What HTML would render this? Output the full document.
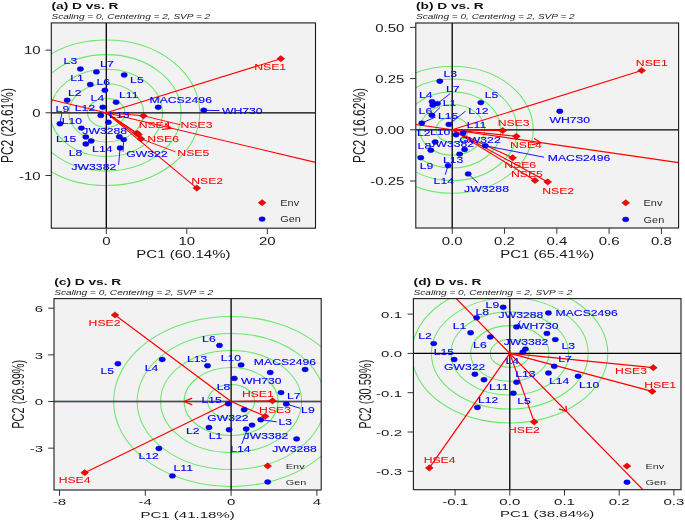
<!DOCTYPE html><html><head><meta charset="utf-8"><style>html,body{margin:0;padding:0;background:#fff}svg{display:block;will-change:transform}text{font-family:"Liberation Sans",sans-serif}</style></head><body>
<svg width="685" height="522" viewBox="0 0 685 522">
<rect width="685" height="522" fill="#fff"/>
<text transform="translate(51.5,8.7) scale(1.4,1)" font-size="9.8" fill="#111" text-anchor="start" font-weight="bold">(a) D vs. R</text>
<text transform="translate(51.5,19.3) scale(1.36,1)" font-size="7.4" fill="#222" text-anchor="start" font-style="italic">Scaling = 0, Centering = 2, SVP = 2</text>
<rect x="51.3" y="22.9" width="264.2" height="205.3" fill="#f2f2f2"/>
<clipPath id="clipa"><rect x="51.3" y="22.9" width="264.2" height="205.3"/></clipPath>
<g clip-path="url(#clipa)">
<ellipse cx="106.3" cy="112.8" rx="18.7" ry="14.55" fill="none" stroke="#6ae86a" stroke-width="1.05"/>
<ellipse cx="106.3" cy="112.8" rx="37.4" ry="29.1" fill="none" stroke="#6ae86a" stroke-width="1.05"/>
<ellipse cx="106.3" cy="112.8" rx="56.1" ry="43.65" fill="none" stroke="#6ae86a" stroke-width="1.05"/>
<ellipse cx="106.3" cy="112.8" rx="74.8" ry="58.2" fill="none" stroke="#6ae86a" stroke-width="1.05"/>
<ellipse cx="106.3" cy="112.8" rx="93.5" ry="72.75" fill="none" stroke="#6ae86a" stroke-width="1.05"/>
<line x1="51.3" y1="112.8" x2="315.5" y2="112.8" stroke="#000" stroke-width="1.3"/>
<line x1="106.3" y1="22.9" x2="106.3" y2="228.2" stroke="#000" stroke-width="1.3"/>
<line x1="51.3" y1="99.77" x2="315.5" y2="162.38" stroke="#ff0000" stroke-width="1.1"/>
<polyline points="162.46,129.45 171,128.3 165.29,123.77" fill="none" stroke="#ff0000" stroke-width="1.3" stroke-linecap="round" stroke-linejoin="round"/>
<line x1="106.3" y1="112.8" x2="280.8" y2="58.7" stroke="#ff0000" stroke-width="1.1"/>
<line x1="106.3" y1="112.8" x2="196.8" y2="188.1" stroke="#ff0000" stroke-width="1.1"/>
<line x1="106.3" y1="112.8" x2="143.4" y2="115.8" stroke="#ff0000" stroke-width="1.1"/>
<line x1="106.3" y1="112.8" x2="137.1" y2="133.3" stroke="#ff0000" stroke-width="1.1"/>
<line x1="106.3" y1="112.8" x2="141" y2="138.9" stroke="#ff0000" stroke-width="1.1"/>
<line x1="106.3" y1="112.8" x2="138.5" y2="134.5" stroke="#ff0000" stroke-width="1.1"/>
<line x1="143.4" y1="115.8" x2="180.5" y2="124.8" stroke="#ff0000" stroke-width="0.9"/>
<line x1="141" y1="138.9" x2="175.5" y2="151.8" stroke="#ff0000" stroke-width="0.9"/>
<line x1="61.9" y1="113" x2="59.9" y2="123.8" stroke="#0000ff" stroke-width="0.9"/>
<line x1="123.7" y1="139.6" x2="123" y2="151.6" stroke="#0000ff" stroke-width="0.9"/>
<line x1="120.1" y1="148" x2="118.6" y2="164.7" stroke="#0000ff" stroke-width="0.9"/>
<line x1="203.8" y1="110.3" x2="219.5" y2="110.6" stroke="#0000ff" stroke-width="0.9"/>
<ellipse cx="80.4" cy="69" rx="3.2" ry="2.45" fill="#0000ff" stroke="#00007a" stroke-width="0.35"/>
<ellipse cx="96.4" cy="71.9" rx="3.2" ry="2.45" fill="#0000ff" stroke="#00007a" stroke-width="0.35"/>
<ellipse cx="124.2" cy="75" rx="3.2" ry="2.45" fill="#0000ff" stroke="#00007a" stroke-width="0.35"/>
<ellipse cx="90.3" cy="84.5" rx="3.2" ry="2.45" fill="#0000ff" stroke="#00007a" stroke-width="0.35"/>
<ellipse cx="104.9" cy="90.3" rx="3.2" ry="2.45" fill="#0000ff" stroke="#00007a" stroke-width="0.35"/>
<ellipse cx="67.2" cy="100.3" rx="3.2" ry="2.45" fill="#0000ff" stroke="#00007a" stroke-width="0.35"/>
<ellipse cx="116.1" cy="102.2" rx="3.2" ry="2.45" fill="#0000ff" stroke="#00007a" stroke-width="0.35"/>
<ellipse cx="102.8" cy="107.3" rx="3.2" ry="2.45" fill="#0000ff" stroke="#00007a" stroke-width="0.35"/>
<ellipse cx="100.8" cy="115.4" rx="3.2" ry="2.45" fill="#0000ff" stroke="#00007a" stroke-width="0.35"/>
<ellipse cx="108.4" cy="122.3" rx="3.2" ry="2.45" fill="#0000ff" stroke="#00007a" stroke-width="0.35"/>
<ellipse cx="59.9" cy="123.8" rx="3.2" ry="2.45" fill="#0000ff" stroke="#00007a" stroke-width="0.35"/>
<ellipse cx="81.4" cy="128.1" rx="3.2" ry="2.45" fill="#0000ff" stroke="#00007a" stroke-width="0.35"/>
<ellipse cx="85.8" cy="137" rx="3.2" ry="2.45" fill="#0000ff" stroke="#00007a" stroke-width="0.35"/>
<ellipse cx="91.2" cy="141" rx="3.2" ry="2.45" fill="#0000ff" stroke="#00007a" stroke-width="0.35"/>
<ellipse cx="85.8" cy="144" rx="3.2" ry="2.45" fill="#0000ff" stroke="#00007a" stroke-width="0.35"/>
<ellipse cx="119.3" cy="136.7" rx="3.2" ry="2.45" fill="#0000ff" stroke="#00007a" stroke-width="0.35"/>
<ellipse cx="123.7" cy="139.6" rx="3.2" ry="2.45" fill="#0000ff" stroke="#00007a" stroke-width="0.35"/>
<ellipse cx="120.1" cy="148" rx="3.2" ry="2.45" fill="#0000ff" stroke="#00007a" stroke-width="0.35"/>
<ellipse cx="158.2" cy="107.3" rx="3.2" ry="2.45" fill="#0000ff" stroke="#00007a" stroke-width="0.35"/>
<ellipse cx="203.8" cy="110.3" rx="3.2" ry="2.45" fill="#0000ff" stroke="#00007a" stroke-width="0.35"/>
<polygon points="276.9,58.7 280.8,55.6 284.7,58.7 280.8,61.8" fill="#ff0000" stroke="#8a0000" stroke-width="0.45" stroke-linejoin="miter"/>
<polygon points="192.9,188.1 196.8,185 200.7,188.1 196.8,191.2" fill="#ff0000" stroke="#8a0000" stroke-width="0.45" stroke-linejoin="miter"/>
<polygon points="139.5,115.8 143.4,112.7 147.3,115.8 143.4,118.9" fill="#ff0000" stroke="#8a0000" stroke-width="0.45" stroke-linejoin="miter"/>
<polygon points="133.2,133.3 137.1,130.2 141,133.3 137.1,136.4" fill="#ff0000" stroke="#8a0000" stroke-width="0.45" stroke-linejoin="miter"/>
<polygon points="137.1,138.9 141,135.8 144.9,138.9 141,142" fill="#ff0000" stroke="#8a0000" stroke-width="0.45" stroke-linejoin="miter"/>
<polygon points="134.6,134.5 138.5,131.4 142.4,134.5 138.5,137.6" fill="#ff0000" stroke="#8a0000" stroke-width="0.45" stroke-linejoin="miter"/>
<text transform="translate(70.4,64.45) scale(1.33,1)" font-size="9.2" fill="#0000ff" text-anchor="middle" stroke="#0000ff" stroke-width="0.12">L3</text>
<text transform="translate(106.9,67.45) scale(1.33,1)" font-size="9.2" fill="#0000ff" text-anchor="middle" stroke="#0000ff" stroke-width="0.12">L7</text>
<text transform="translate(77,80.95) scale(1.33,1)" font-size="9.2" fill="#0000ff" text-anchor="middle" stroke="#0000ff" stroke-width="0.12">L1</text>
<text transform="translate(103.3,85.35) scale(1.33,1)" font-size="9.2" fill="#0000ff" text-anchor="middle" stroke="#0000ff" stroke-width="0.12">L6</text>
<text transform="translate(136.9,83.45) scale(1.33,1)" font-size="9.2" fill="#0000ff" text-anchor="middle" stroke="#0000ff" stroke-width="0.12">L5</text>
<text transform="translate(74.8,95.55) scale(1.33,1)" font-size="9.2" fill="#0000ff" text-anchor="middle" stroke="#0000ff" stroke-width="0.12">L2</text>
<text transform="translate(128.8,97.75) scale(1.33,1)" font-size="9.2" fill="#0000ff" text-anchor="middle" stroke="#0000ff" stroke-width="0.12">L11</text>
<text transform="translate(97.4,101.45) scale(1.33,1)" font-size="9.2" fill="#0000ff" text-anchor="middle" stroke="#0000ff" stroke-width="0.12">L4</text>
<text transform="translate(85,110.95) scale(1.33,1)" font-size="9.2" fill="#0000ff" text-anchor="middle" stroke="#0000ff" stroke-width="0.12">L12</text>
<text transform="translate(62.4,112.05) scale(1.33,1)" font-size="9.2" fill="#0000ff" text-anchor="middle" stroke="#0000ff" stroke-width="0.12">L9</text>
<text transform="translate(71.9,123.65) scale(1.33,1)" font-size="9.2" fill="#0000ff" text-anchor="middle" stroke="#0000ff" stroke-width="0.12">L10</text>
<text transform="translate(119.3,117.85) scale(1.33,1)" font-size="9.2" fill="#0000ff" text-anchor="middle" stroke="#0000ff" stroke-width="0.12">L13</text>
<text transform="translate(104.7,133.75) scale(1.33,1)" font-size="9.2" fill="#0000ff" text-anchor="middle" stroke="#0000ff" stroke-width="0.12">JW3288</text>
<text transform="translate(66.1,141.85) scale(1.33,1)" font-size="9.2" fill="#0000ff" text-anchor="middle" stroke="#0000ff" stroke-width="0.12">L15</text>
<text transform="translate(75.5,155.65) scale(1.33,1)" font-size="9.2" fill="#0000ff" text-anchor="middle" stroke="#0000ff" stroke-width="0.12">L8</text>
<text transform="translate(102.3,152.45) scale(1.33,1)" font-size="9.2" fill="#0000ff" text-anchor="middle" stroke="#0000ff" stroke-width="0.12">L14</text>
<text transform="translate(93.8,169.55) scale(1.33,1)" font-size="9.2" fill="#0000ff" text-anchor="middle" stroke="#0000ff" stroke-width="0.12">JW3382</text>
<text transform="translate(147,156.65) scale(1.33,1)" font-size="9.2" fill="#0000ff" text-anchor="middle" stroke="#0000ff" stroke-width="0.12">GW322</text>
<text transform="translate(180.7,102.75) scale(1.33,1)" font-size="9.2" fill="#0000ff" text-anchor="middle" stroke="#0000ff" stroke-width="0.12">MACS2496</text>
<text transform="translate(242.3,114.35) scale(1.33,1)" font-size="9.2" fill="#0000ff" text-anchor="middle" stroke="#0000ff" stroke-width="0.12">WH730</text>
<text transform="translate(270.2,70.05) scale(1.33,1)" font-size="9.2" fill="#ff0000" text-anchor="middle" stroke="#ff0000" stroke-width="0.05">NSE1</text>
<text transform="translate(207.2,183.85) scale(1.33,1)" font-size="9.2" fill="#ff0000" text-anchor="middle" stroke="#ff0000" stroke-width="0.05">NSE2</text>
<text transform="translate(196.5,128.25) scale(1.33,1)" font-size="9.2" fill="#ff0000" text-anchor="middle" stroke="#ff0000" stroke-width="0.05">NSE3</text>
<text transform="translate(154.6,128.15) scale(1.33,1)" font-size="9.2" fill="#ff0000" text-anchor="middle" stroke="#ff0000" stroke-width="0.05">NSE4</text>
<text transform="translate(193.3,156.25) scale(1.33,1)" font-size="9.2" fill="#ff0000" text-anchor="middle" stroke="#ff0000" stroke-width="0.05">NSE5</text>
<text transform="translate(163.1,142.35) scale(1.33,1)" font-size="9.2" fill="#ff0000" text-anchor="middle" stroke="#ff0000" stroke-width="0.05">NSE6</text>
<polygon points="258.2,202.7 262.1,199.6 266,202.7 262.1,205.8" fill="#ff0000" stroke="#8a0000" stroke-width="0.45" stroke-linejoin="miter"/>
<ellipse cx="262.1" cy="219.1" rx="3.2" ry="2.45" fill="#0000ff" stroke="#00007a" stroke-width="0.35"/>
<text transform="translate(280.3,205.83) scale(1.27,1)" font-size="8.6" fill="#2a2a2a" text-anchor="start">Env</text>
<text transform="translate(280.3,222.23) scale(1.27,1)" font-size="8.6" fill="#2a2a2a" text-anchor="start">Gen</text>
</g>
<rect x="51.3" y="22.9" width="264.2" height="205.3" fill="none" stroke="#1a1a1a" stroke-width="1.1"/>
<line x1="45.5" y1="50.1" x2="51.3" y2="50.1" stroke="#333333" stroke-width="1"/>
<text transform="translate(40.6,54.25) scale(1.5,1)" font-size="10" fill="#1a1a1a" text-anchor="end">10</text>
<line x1="45.5" y1="112.8" x2="51.3" y2="112.8" stroke="#333333" stroke-width="1"/>
<text transform="translate(40.6,116.94) scale(1.5,1)" font-size="10" fill="#1a1a1a" text-anchor="end">0</text>
<line x1="45.5" y1="175.5" x2="51.3" y2="175.5" stroke="#333333" stroke-width="1"/>
<text transform="translate(40.6,179.65) scale(1.5,1)" font-size="10" fill="#1a1a1a" text-anchor="end">-10</text>
<line x1="106.3" y1="228.2" x2="106.3" y2="234" stroke="#333333" stroke-width="1"/>
<text transform="translate(106.3,244.75) scale(1.5,1)" font-size="10" fill="#1a1a1a" text-anchor="middle">0</text>
<line x1="186.8" y1="228.2" x2="186.8" y2="234" stroke="#333333" stroke-width="1"/>
<text transform="translate(186.8,244.75) scale(1.5,1)" font-size="10" fill="#1a1a1a" text-anchor="middle">10</text>
<line x1="267.3" y1="228.2" x2="267.3" y2="234" stroke="#333333" stroke-width="1"/>
<text transform="translate(267.3,244.75) scale(1.5,1)" font-size="10" fill="#1a1a1a" text-anchor="middle">20</text>
<text transform="translate(183.4,257.94) scale(1.5,1)" font-size="10" fill="#1a1a1a" text-anchor="middle">PC1 (60.14%)</text>
<text transform="translate(7.2,125.55) rotate(-90) scale(1,1.34)" font-size="11.94" fill="#1a1a1a" text-anchor="middle" dy="4.35">PC2 (23.61%)</text>
<text transform="translate(416,8.8) scale(1.4,1)" font-size="9.8" fill="#111" text-anchor="start" font-weight="bold">(b) D vs. R</text>
<text transform="translate(416,19.4) scale(1.36,1)" font-size="7.4" fill="#222" text-anchor="start" font-style="italic">Scaling = 0, Centering = 2, SVP = 2</text>
<rect x="415.8" y="23" width="262.8" height="205" fill="#f2f2f2"/>
<clipPath id="clipb"><rect x="415.8" y="23" width="262.8" height="205"/></clipPath>
<g clip-path="url(#clipb)">
<ellipse cx="452.2" cy="129.8" rx="16.2" ry="12.7" fill="none" stroke="#6ae86a" stroke-width="1.05"/>
<ellipse cx="452.2" cy="129.8" rx="32.4" ry="25.4" fill="none" stroke="#6ae86a" stroke-width="1.05"/>
<ellipse cx="452.2" cy="129.8" rx="48.6" ry="38.1" fill="none" stroke="#6ae86a" stroke-width="1.05"/>
<ellipse cx="452.2" cy="129.8" rx="64.8" ry="50.8" fill="none" stroke="#6ae86a" stroke-width="1.05"/>
<ellipse cx="452.2" cy="129.8" rx="81" ry="63.5" fill="none" stroke="#6ae86a" stroke-width="1.05"/>
<line x1="415.8" y1="129.8" x2="678.6" y2="129.8" stroke="#000" stroke-width="1.3"/>
<line x1="452.2" y1="23" x2="452.2" y2="228" stroke="#000" stroke-width="1.3"/>
<line x1="415.8" y1="124.52" x2="678.6" y2="162.63" stroke="#ff0000" stroke-width="1.1"/>
<polyline points="532.73,144.57 541,142.7 534.52,138.7" fill="none" stroke="#ff0000" stroke-width="1.3" stroke-linecap="round" stroke-linejoin="round"/>
<line x1="452.2" y1="129.8" x2="641.6" y2="70.5" stroke="#ff0000" stroke-width="1.1"/>
<line x1="452.2" y1="129.8" x2="547.7" y2="181.9" stroke="#ff0000" stroke-width="1.1"/>
<line x1="452.2" y1="129.8" x2="502.8" y2="130.6" stroke="#ff0000" stroke-width="1.1"/>
<line x1="452.2" y1="129.8" x2="516.4" y2="136.3" stroke="#ff0000" stroke-width="1.1"/>
<line x1="452.2" y1="129.8" x2="535" y2="180.5" stroke="#ff0000" stroke-width="1.1"/>
<line x1="452.2" y1="129.8" x2="512.6" y2="157.8" stroke="#ff0000" stroke-width="1.1"/>
<line x1="450.2" y1="93.5" x2="437.5" y2="103.6" stroke="#0000ff" stroke-width="0.9"/>
<line x1="440" y1="107.5" x2="431.9" y2="115.3" stroke="#0000ff" stroke-width="0.9"/>
<line x1="435.5" y1="117" x2="421.8" y2="123.1" stroke="#0000ff" stroke-width="0.9"/>
<line x1="465.7" y1="111" x2="448.9" y2="124.4" stroke="#0000ff" stroke-width="0.9"/>
<line x1="445.2" y1="174.7" x2="448.1" y2="165.6" stroke="#0000ff" stroke-width="0.9"/>
<line x1="477.6" y1="182.6" x2="468.2" y2="173.9" stroke="#0000ff" stroke-width="0.9"/>
<line x1="485.3" y1="145.8" x2="544" y2="157.2" stroke="#0000ff" stroke-width="0.9"/>
<ellipse cx="439.8" cy="81.2" rx="3.2" ry="2.45" fill="#0000ff" stroke="#00007a" stroke-width="0.35"/>
<ellipse cx="432.1" cy="101.8" rx="3.2" ry="2.45" fill="#0000ff" stroke="#00007a" stroke-width="0.35"/>
<ellipse cx="437.5" cy="103.6" rx="3.2" ry="2.45" fill="#0000ff" stroke="#00007a" stroke-width="0.35"/>
<ellipse cx="432.8" cy="105.3" rx="3.2" ry="2.45" fill="#0000ff" stroke="#00007a" stroke-width="0.35"/>
<ellipse cx="431.9" cy="115.3" rx="3.2" ry="2.45" fill="#0000ff" stroke="#00007a" stroke-width="0.35"/>
<ellipse cx="421.8" cy="123.1" rx="3.2" ry="2.45" fill="#0000ff" stroke="#00007a" stroke-width="0.35"/>
<ellipse cx="448.9" cy="124.4" rx="3.2" ry="2.45" fill="#0000ff" stroke="#00007a" stroke-width="0.35"/>
<ellipse cx="480.8" cy="102.6" rx="3.2" ry="2.45" fill="#0000ff" stroke="#00007a" stroke-width="0.35"/>
<ellipse cx="456" cy="134.8" rx="3.2" ry="2.45" fill="#0000ff" stroke="#00007a" stroke-width="0.35"/>
<ellipse cx="463.2" cy="133" rx="3.2" ry="2.45" fill="#0000ff" stroke="#00007a" stroke-width="0.35"/>
<ellipse cx="435.2" cy="142" rx="3.2" ry="2.45" fill="#0000ff" stroke="#00007a" stroke-width="0.35"/>
<ellipse cx="430.8" cy="150.2" rx="3.2" ry="2.45" fill="#0000ff" stroke="#00007a" stroke-width="0.35"/>
<ellipse cx="464.6" cy="149.5" rx="3.2" ry="2.45" fill="#0000ff" stroke="#00007a" stroke-width="0.35"/>
<ellipse cx="459.6" cy="154.1" rx="3.2" ry="2.45" fill="#0000ff" stroke="#00007a" stroke-width="0.35"/>
<ellipse cx="420.8" cy="157.7" rx="3.2" ry="2.45" fill="#0000ff" stroke="#00007a" stroke-width="0.35"/>
<ellipse cx="448.1" cy="165.6" rx="3.2" ry="2.45" fill="#0000ff" stroke="#00007a" stroke-width="0.35"/>
<ellipse cx="468.2" cy="173.9" rx="3.2" ry="2.45" fill="#0000ff" stroke="#00007a" stroke-width="0.35"/>
<ellipse cx="485.3" cy="145.8" rx="3.2" ry="2.45" fill="#0000ff" stroke="#00007a" stroke-width="0.35"/>
<ellipse cx="559.8" cy="111.3" rx="3.2" ry="2.45" fill="#0000ff" stroke="#00007a" stroke-width="0.35"/>
<polygon points="637.7,70.5 641.6,67.4 645.5,70.5 641.6,73.6" fill="#ff0000" stroke="#8a0000" stroke-width="0.45" stroke-linejoin="miter"/>
<polygon points="543.8,181.9 547.7,178.8 551.6,181.9 547.7,185" fill="#ff0000" stroke="#8a0000" stroke-width="0.45" stroke-linejoin="miter"/>
<polygon points="498.9,130.6 502.8,127.5 506.7,130.6 502.8,133.7" fill="#ff0000" stroke="#8a0000" stroke-width="0.45" stroke-linejoin="miter"/>
<polygon points="512.5,136.3 516.4,133.2 520.3,136.3 516.4,139.4" fill="#ff0000" stroke="#8a0000" stroke-width="0.45" stroke-linejoin="miter"/>
<polygon points="531.1,180.5 535,177.4 538.9,180.5 535,183.6" fill="#ff0000" stroke="#8a0000" stroke-width="0.45" stroke-linejoin="miter"/>
<polygon points="508.7,157.8 512.6,154.7 516.5,157.8 512.6,160.9" fill="#ff0000" stroke="#8a0000" stroke-width="0.45" stroke-linejoin="miter"/>
<text transform="translate(450.2,76.75) scale(1.33,1)" font-size="9.2" fill="#0000ff" text-anchor="middle" stroke="#0000ff" stroke-width="0.12">L3</text>
<text transform="translate(452.7,92.15) scale(1.33,1)" font-size="9.2" fill="#0000ff" text-anchor="middle" stroke="#0000ff" stroke-width="0.12">L7</text>
<text transform="translate(425.8,97.95) scale(1.33,1)" font-size="9.2" fill="#0000ff" text-anchor="middle" stroke="#0000ff" stroke-width="0.12">L4</text>
<text transform="translate(449.6,105.95) scale(1.33,1)" font-size="9.2" fill="#0000ff" text-anchor="middle" stroke="#0000ff" stroke-width="0.12">L1</text>
<text transform="translate(491.5,98.25) scale(1.33,1)" font-size="9.2" fill="#0000ff" text-anchor="middle" stroke="#0000ff" stroke-width="0.12">L5</text>
<text transform="translate(425.4,114.35) scale(1.33,1)" font-size="9.2" fill="#0000ff" text-anchor="middle" stroke="#0000ff" stroke-width="0.12">L6</text>
<text transform="translate(478.4,114.05) scale(1.33,1)" font-size="9.2" fill="#0000ff" text-anchor="middle" stroke="#0000ff" stroke-width="0.12">L12</text>
<text transform="translate(448.2,119.45) scale(1.33,1)" font-size="9.2" fill="#0000ff" text-anchor="middle" stroke="#0000ff" stroke-width="0.12">L15</text>
<text transform="translate(476.5,128.05) scale(1.33,1)" font-size="9.2" fill="#0000ff" text-anchor="middle" stroke="#0000ff" stroke-width="0.12">L11</text>
<text transform="translate(423.7,135.65) scale(1.33,1)" font-size="9.2" fill="#0000ff" text-anchor="middle" stroke="#0000ff" stroke-width="0.12">L2</text>
<text transform="translate(440.2,135.35) scale(1.33,1)" font-size="9.2" fill="#0000ff" text-anchor="middle" stroke="#0000ff" stroke-width="0.12">L10</text>
<text transform="translate(451.7,146.85) scale(1.33,1)" font-size="9.2" fill="#0000ff" text-anchor="middle" stroke="#0000ff" stroke-width="0.12">JW3382</text>
<text transform="translate(424.4,148.55) scale(1.33,1)" font-size="9.2" fill="#0000ff" text-anchor="middle" stroke="#0000ff" stroke-width="0.12">L8</text>
<text transform="translate(480,142.55) scale(1.33,1)" font-size="9.2" fill="#0000ff" text-anchor="middle" stroke="#0000ff" stroke-width="0.12">GW322</text>
<text transform="translate(453.1,162.95) scale(1.33,1)" font-size="9.2" fill="#0000ff" text-anchor="middle" stroke="#0000ff" stroke-width="0.12">L13</text>
<text transform="translate(426.5,169.35) scale(1.33,1)" font-size="9.2" fill="#0000ff" text-anchor="middle" stroke="#0000ff" stroke-width="0.12">L9</text>
<text transform="translate(443.8,183.75) scale(1.33,1)" font-size="9.2" fill="#0000ff" text-anchor="middle" stroke="#0000ff" stroke-width="0.12">L14</text>
<text transform="translate(486.5,191.65) scale(1.33,1)" font-size="9.2" fill="#0000ff" text-anchor="middle" stroke="#0000ff" stroke-width="0.12">JW3288</text>
<text transform="translate(569.8,122.75) scale(1.33,1)" font-size="9.2" fill="#0000ff" text-anchor="middle" stroke="#0000ff" stroke-width="0.12">WH730</text>
<text transform="translate(579,160.55) scale(1.33,1)" font-size="9.2" fill="#0000ff" text-anchor="middle" stroke="#0000ff" stroke-width="0.12">MACS2496</text>
<text transform="translate(651.8,65.95) scale(1.33,1)" font-size="9.2" fill="#ff0000" text-anchor="middle" stroke="#ff0000" stroke-width="0.05">NSE1</text>
<text transform="translate(513.6,126.35) scale(1.33,1)" font-size="9.2" fill="#ff0000" text-anchor="middle" stroke="#ff0000" stroke-width="0.05">NSE3</text>
<text transform="translate(525.9,148.15) scale(1.33,1)" font-size="9.2" fill="#ff0000" text-anchor="middle" stroke="#ff0000" stroke-width="0.05">NSE4</text>
<text transform="translate(520.2,167.55) scale(1.33,1)" font-size="9.2" fill="#ff0000" text-anchor="middle" stroke="#ff0000" stroke-width="0.05">NSE6</text>
<text transform="translate(526.9,177.05) scale(1.33,1)" font-size="9.2" fill="#ff0000" text-anchor="middle" stroke="#ff0000" stroke-width="0.05">NSE5</text>
<text transform="translate(558.2,193.75) scale(1.33,1)" font-size="9.2" fill="#ff0000" text-anchor="middle" stroke="#ff0000" stroke-width="0.05">NSE2</text>
<polygon points="621.8,202.8 625.7,199.7 629.6,202.8 625.7,205.9" fill="#ff0000" stroke="#8a0000" stroke-width="0.45" stroke-linejoin="miter"/>
<ellipse cx="625.7" cy="219.4" rx="3.2" ry="2.45" fill="#0000ff" stroke="#00007a" stroke-width="0.35"/>
<text transform="translate(643.6,205.93) scale(1.27,1)" font-size="8.6" fill="#2a2a2a" text-anchor="start">Env</text>
<text transform="translate(643.6,222.53) scale(1.27,1)" font-size="8.6" fill="#2a2a2a" text-anchor="start">Gen</text>
</g>
<rect x="415.8" y="23" width="262.8" height="205" fill="none" stroke="#1a1a1a" stroke-width="1.1"/>
<line x1="410" y1="27.4" x2="415.8" y2="27.4" stroke="#333333" stroke-width="1"/>
<text transform="translate(404.4,31.54) scale(1.5,1)" font-size="10" fill="#1a1a1a" text-anchor="end">0.50</text>
<line x1="410" y1="78.6" x2="415.8" y2="78.6" stroke="#333333" stroke-width="1"/>
<text transform="translate(404.4,82.74) scale(1.5,1)" font-size="10" fill="#1a1a1a" text-anchor="end">0.25</text>
<line x1="410" y1="129.8" x2="415.8" y2="129.8" stroke="#333333" stroke-width="1"/>
<text transform="translate(404.4,133.95) scale(1.5,1)" font-size="10" fill="#1a1a1a" text-anchor="end">0.00</text>
<line x1="410" y1="181" x2="415.8" y2="181" stroke="#333333" stroke-width="1"/>
<text transform="translate(404.4,185.15) scale(1.5,1)" font-size="10" fill="#1a1a1a" text-anchor="end">-0.25</text>
<line x1="452.2" y1="228" x2="452.2" y2="233.8" stroke="#333333" stroke-width="1"/>
<text transform="translate(452.2,244.55) scale(1.5,1)" font-size="10" fill="#1a1a1a" text-anchor="middle">0.0</text>
<line x1="504.5" y1="228" x2="504.5" y2="233.8" stroke="#333333" stroke-width="1"/>
<text transform="translate(504.5,244.55) scale(1.5,1)" font-size="10" fill="#1a1a1a" text-anchor="middle">0.2</text>
<line x1="556.8" y1="228" x2="556.8" y2="233.8" stroke="#333333" stroke-width="1"/>
<text transform="translate(556.8,244.55) scale(1.5,1)" font-size="10" fill="#1a1a1a" text-anchor="middle">0.4</text>
<line x1="609.1" y1="228" x2="609.1" y2="233.8" stroke="#333333" stroke-width="1"/>
<text transform="translate(609.1,244.55) scale(1.5,1)" font-size="10" fill="#1a1a1a" text-anchor="middle">0.6</text>
<line x1="661.4" y1="228" x2="661.4" y2="233.8" stroke="#333333" stroke-width="1"/>
<text transform="translate(661.4,244.55) scale(1.5,1)" font-size="10" fill="#1a1a1a" text-anchor="middle">0.8</text>
<text transform="translate(547.2,257.75) scale(1.5,1)" font-size="10" fill="#1a1a1a" text-anchor="middle">PC1 (65.41%)</text>
<text transform="translate(359.2,125.5) rotate(-90) scale(1,1.34)" font-size="11.94" fill="#1a1a1a" text-anchor="middle" dy="4.35">PC2 (16.62%)</text>
<text transform="translate(54.2,285.34) scale(1.5,1)" font-size="9.15" fill="#111" text-anchor="start" font-weight="bold">(c) D vs. R</text>
<text transform="translate(54.2,295.24) scale(1.46,1)" font-size="6.91" fill="#222" text-anchor="start" font-style="italic">Scaling = 0, Centering = 2, SVP = 2</text>
<rect x="54" y="298.6" width="267.2" height="191.4" fill="#f2f2f2"/>
<clipPath id="clipc"><rect x="54" y="298.6" width="267.2" height="191.4"/></clipPath>
<g clip-path="url(#clipc)">
<ellipse cx="231.1" cy="401.5" rx="23.5" ry="17" fill="none" stroke="#6ae86a" stroke-width="1.05"/>
<ellipse cx="231.1" cy="401.5" rx="47" ry="34" fill="none" stroke="#6ae86a" stroke-width="1.05"/>
<ellipse cx="231.1" cy="401.5" rx="70.5" ry="51" fill="none" stroke="#6ae86a" stroke-width="1.05"/>
<ellipse cx="231.1" cy="401.5" rx="94" ry="68" fill="none" stroke="#6ae86a" stroke-width="1.05"/>
<ellipse cx="231.1" cy="401.5" rx="117.5" ry="85" fill="none" stroke="#6ae86a" stroke-width="1.05"/>
<line x1="54" y1="401.5" x2="321.2" y2="401.5" stroke="#000" stroke-width="1.3"/>
<line x1="231.1" y1="298.6" x2="231.1" y2="490" stroke="#000" stroke-width="1.3"/>
<line x1="54" y1="401.5" x2="321.2" y2="401.5" stroke="#ff0000" stroke-width="1.2"/>
<polyline points="191.71,398.35 183.8,401.5 191.71,404.65" fill="none" stroke="#ff0000" stroke-width="1.3" stroke-linecap="round" stroke-linejoin="round"/>
<line x1="231.1" y1="401.5" x2="272.5" y2="400.8" stroke="#ff0000" stroke-width="1.2"/>
<line x1="231.1" y1="401.5" x2="115" y2="315" stroke="#ff0000" stroke-width="1.2"/>
<line x1="231.1" y1="401.5" x2="265.2" y2="416.3" stroke="#ff0000" stroke-width="1.2"/>
<line x1="231.1" y1="401.5" x2="84.7" y2="472.7" stroke="#ff0000" stroke-width="1.2"/>
<line x1="286.3" y1="404" x2="300.2" y2="408.3" stroke="#0000ff" stroke-width="0.9"/>
<line x1="260.7" y1="419.8" x2="276.7" y2="421.8" stroke="#0000ff" stroke-width="0.9"/>
<line x1="246.6" y1="431" x2="241.8" y2="444" stroke="#0000ff" stroke-width="0.9"/>
<ellipse cx="117.9" cy="363.7" rx="3.2" ry="2.45" fill="#0000ff" stroke="#00007a" stroke-width="0.35"/>
<ellipse cx="162.2" cy="359.5" rx="3.2" ry="2.45" fill="#0000ff" stroke="#00007a" stroke-width="0.35"/>
<ellipse cx="219.5" cy="345.4" rx="3.2" ry="2.45" fill="#0000ff" stroke="#00007a" stroke-width="0.35"/>
<ellipse cx="207.5" cy="365.8" rx="3.2" ry="2.45" fill="#0000ff" stroke="#00007a" stroke-width="0.35"/>
<ellipse cx="241.1" cy="364.9" rx="3.2" ry="2.45" fill="#0000ff" stroke="#00007a" stroke-width="0.35"/>
<ellipse cx="270.2" cy="372.5" rx="3.2" ry="2.45" fill="#0000ff" stroke="#00007a" stroke-width="0.35"/>
<ellipse cx="305.1" cy="369.5" rx="3.2" ry="2.45" fill="#0000ff" stroke="#00007a" stroke-width="0.35"/>
<ellipse cx="234.3" cy="378.4" rx="3.2" ry="2.45" fill="#0000ff" stroke="#00007a" stroke-width="0.35"/>
<ellipse cx="281" cy="392.6" rx="3.2" ry="2.45" fill="#0000ff" stroke="#00007a" stroke-width="0.35"/>
<ellipse cx="286.3" cy="404" rx="3.2" ry="2.45" fill="#0000ff" stroke="#00007a" stroke-width="0.35"/>
<ellipse cx="228.2" cy="403.8" rx="3.2" ry="2.45" fill="#0000ff" stroke="#00007a" stroke-width="0.35"/>
<ellipse cx="244.2" cy="409.8" rx="3.2" ry="2.45" fill="#0000ff" stroke="#00007a" stroke-width="0.35"/>
<ellipse cx="260.7" cy="419.8" rx="3.2" ry="2.45" fill="#0000ff" stroke="#00007a" stroke-width="0.35"/>
<ellipse cx="252" cy="425.1" rx="3.2" ry="2.45" fill="#0000ff" stroke="#00007a" stroke-width="0.35"/>
<ellipse cx="246.2" cy="429" rx="3.2" ry="2.45" fill="#0000ff" stroke="#00007a" stroke-width="0.35"/>
<ellipse cx="229.1" cy="429.7" rx="3.2" ry="2.45" fill="#0000ff" stroke="#00007a" stroke-width="0.35"/>
<ellipse cx="209" cy="427.5" rx="3.2" ry="2.45" fill="#0000ff" stroke="#00007a" stroke-width="0.35"/>
<ellipse cx="296.6" cy="438.9" rx="3.2" ry="2.45" fill="#0000ff" stroke="#00007a" stroke-width="0.35"/>
<ellipse cx="158.9" cy="448.5" rx="3.2" ry="2.45" fill="#0000ff" stroke="#00007a" stroke-width="0.35"/>
<ellipse cx="172.4" cy="475.9" rx="3.2" ry="2.45" fill="#0000ff" stroke="#00007a" stroke-width="0.35"/>
<polygon points="268.6,400.8 272.5,397.7 276.4,400.8 272.5,403.9" fill="#ff0000" stroke="#8a0000" stroke-width="0.45" stroke-linejoin="miter"/>
<polygon points="111.1,315 115,311.9 118.9,315 115,318.1" fill="#ff0000" stroke="#8a0000" stroke-width="0.45" stroke-linejoin="miter"/>
<polygon points="261.3,416.3 265.2,413.2 269.1,416.3 265.2,419.4" fill="#ff0000" stroke="#8a0000" stroke-width="0.45" stroke-linejoin="miter"/>
<polygon points="80.8,472.7 84.7,469.6 88.6,472.7 84.7,475.8" fill="#ff0000" stroke="#8a0000" stroke-width="0.45" stroke-linejoin="miter"/>
<text transform="translate(107.2,374.43) scale(1.42,1)" font-size="8.59" fill="#0000ff" text-anchor="middle" stroke="#0000ff" stroke-width="0.12">L5</text>
<text transform="translate(151.5,370.83) scale(1.42,1)" font-size="8.59" fill="#0000ff" text-anchor="middle" stroke="#0000ff" stroke-width="0.12">L4</text>
<text transform="translate(208.9,341.63) scale(1.42,1)" font-size="8.59" fill="#0000ff" text-anchor="middle" stroke="#0000ff" stroke-width="0.12">L6</text>
<text transform="translate(197.2,361.63) scale(1.42,1)" font-size="8.59" fill="#0000ff" text-anchor="middle" stroke="#0000ff" stroke-width="0.12">L13</text>
<text transform="translate(230.8,360.63) scale(1.42,1)" font-size="8.59" fill="#0000ff" text-anchor="middle" stroke="#0000ff" stroke-width="0.12">L10</text>
<text transform="translate(285,365.13) scale(1.42,1)" font-size="8.59" fill="#0000ff" text-anchor="middle" stroke="#0000ff" stroke-width="0.12">MACS2496</text>
<text transform="translate(261.2,383.63) scale(1.42,1)" font-size="8.59" fill="#0000ff" text-anchor="middle" stroke="#0000ff" stroke-width="0.12">WH730</text>
<text transform="translate(223.5,389.53) scale(1.42,1)" font-size="8.59" fill="#0000ff" text-anchor="middle" stroke="#0000ff" stroke-width="0.12">L8</text>
<text transform="translate(211.6,402.53) scale(1.42,1)" font-size="8.59" fill="#0000ff" text-anchor="middle" stroke="#0000ff" stroke-width="0.12">L15</text>
<text transform="translate(293.8,399.43) scale(1.42,1)" font-size="8.59" fill="#0000ff" text-anchor="middle" stroke="#0000ff" stroke-width="0.12">L7</text>
<text transform="translate(307.9,412.53) scale(1.42,1)" font-size="8.59" fill="#0000ff" text-anchor="middle" stroke="#0000ff" stroke-width="0.12">L9</text>
<text transform="translate(285.3,425.33) scale(1.42,1)" font-size="8.59" fill="#0000ff" text-anchor="middle" stroke="#0000ff" stroke-width="0.12">L3</text>
<text transform="translate(227.8,420.93) scale(1.42,1)" font-size="8.59" fill="#0000ff" text-anchor="middle" stroke="#0000ff" stroke-width="0.12">GW322</text>
<text transform="translate(192.8,433.93) scale(1.42,1)" font-size="8.59" fill="#0000ff" text-anchor="middle" stroke="#0000ff" stroke-width="0.12">L2</text>
<text transform="translate(215.5,438.63) scale(1.42,1)" font-size="8.59" fill="#0000ff" text-anchor="middle" stroke="#0000ff" stroke-width="0.12">L1</text>
<text transform="translate(265.9,439.13) scale(1.42,1)" font-size="8.59" fill="#0000ff" text-anchor="middle" stroke="#0000ff" stroke-width="0.12">JW3382</text>
<text transform="translate(240.4,451.83) scale(1.42,1)" font-size="8.59" fill="#0000ff" text-anchor="middle" stroke="#0000ff" stroke-width="0.12">L14</text>
<text transform="translate(294.5,451.53) scale(1.42,1)" font-size="8.59" fill="#0000ff" text-anchor="middle" stroke="#0000ff" stroke-width="0.12">JW3288</text>
<text transform="translate(148.7,459.43) scale(1.42,1)" font-size="8.59" fill="#0000ff" text-anchor="middle" stroke="#0000ff" stroke-width="0.12">L12</text>
<text transform="translate(183.2,471.43) scale(1.42,1)" font-size="8.59" fill="#0000ff" text-anchor="middle" stroke="#0000ff" stroke-width="0.12">L11</text>
<text transform="translate(257.8,396.63) scale(1.42,1)" font-size="8.59" fill="#ff0000" text-anchor="middle" stroke="#ff0000" stroke-width="0.05">HSE1</text>
<text transform="translate(104.5,325.83) scale(1.42,1)" font-size="8.59" fill="#ff0000" text-anchor="middle" stroke="#ff0000" stroke-width="0.05">HSE2</text>
<text transform="translate(275,412.93) scale(1.42,1)" font-size="8.59" fill="#ff0000" text-anchor="middle" stroke="#ff0000" stroke-width="0.05">HSE3</text>
<text transform="translate(74.6,483.43) scale(1.42,1)" font-size="8.59" fill="#ff0000" text-anchor="middle" stroke="#ff0000" stroke-width="0.05">HSE4</text>
<polygon points="263.8,465.9 267.7,462.8 271.6,465.9 267.7,469" fill="#ff0000" stroke="#8a0000" stroke-width="0.45" stroke-linejoin="miter"/>
<ellipse cx="267.7" cy="482" rx="3.2" ry="2.45" fill="#0000ff" stroke="#00007a" stroke-width="0.35"/>
<text transform="translate(285.8,468.83) scale(1.36,1)" font-size="8.03" fill="#2a2a2a" text-anchor="start">Env</text>
<text transform="translate(285.8,484.93) scale(1.36,1)" font-size="8.03" fill="#2a2a2a" text-anchor="start">Gen</text>
</g>
<rect x="54" y="298.6" width="267.2" height="191.4" fill="none" stroke="#1a1a1a" stroke-width="1.1"/>
<line x1="48.2" y1="308.2" x2="54" y2="308.2" stroke="#333333" stroke-width="1"/>
<text transform="translate(43,312.1) scale(1.61,1)" font-size="9.34" fill="#1a1a1a" text-anchor="end">6</text>
<line x1="48.2" y1="354.85" x2="54" y2="354.85" stroke="#333333" stroke-width="1"/>
<text transform="translate(43,358.75) scale(1.61,1)" font-size="9.34" fill="#1a1a1a" text-anchor="end">3</text>
<line x1="48.2" y1="401.5" x2="54" y2="401.5" stroke="#333333" stroke-width="1"/>
<text transform="translate(43,405.4) scale(1.61,1)" font-size="9.34" fill="#1a1a1a" text-anchor="end">0</text>
<line x1="48.2" y1="448.15" x2="54" y2="448.15" stroke="#333333" stroke-width="1"/>
<text transform="translate(43,452.05) scale(1.61,1)" font-size="9.34" fill="#1a1a1a" text-anchor="end">-3</text>
<line x1="59.5" y1="490" x2="59.5" y2="495.8" stroke="#333333" stroke-width="1"/>
<text transform="translate(59.5,505.45) scale(1.61,1)" font-size="9.34" fill="#1a1a1a" text-anchor="middle">-8</text>
<line x1="145.3" y1="490" x2="145.3" y2="495.8" stroke="#333333" stroke-width="1"/>
<text transform="translate(145.3,505.45) scale(1.61,1)" font-size="9.34" fill="#1a1a1a" text-anchor="middle">-4</text>
<line x1="231.1" y1="490" x2="231.1" y2="495.8" stroke="#333333" stroke-width="1"/>
<text transform="translate(231.1,505.45) scale(1.61,1)" font-size="9.34" fill="#1a1a1a" text-anchor="middle">0</text>
<line x1="316.9" y1="490" x2="316.9" y2="495.8" stroke="#333333" stroke-width="1"/>
<text transform="translate(316.9,505.45) scale(1.61,1)" font-size="9.34" fill="#1a1a1a" text-anchor="middle">4</text>
<text transform="translate(187.6,517.78) scale(1.61,1)" font-size="9.34" fill="#1a1a1a" text-anchor="middle">PC1 (41.18%)</text>
<text transform="translate(18,394.3) rotate(-90) scale(1,1.57)" font-size="10.99" fill="#1a1a1a" text-anchor="middle" dy="4">PC2 (26.99%)</text>
<text transform="translate(413.6,285.34) scale(1.5,1)" font-size="9.15" fill="#111" text-anchor="start" font-weight="bold">(d) D vs. R</text>
<text transform="translate(413.6,295.24) scale(1.46,1)" font-size="6.91" fill="#222" text-anchor="start" font-style="italic">Scaling = 0, Centering = 2, SVP = 2</text>
<rect x="413.4" y="298.6" width="267.6" height="191.1" fill="#f2f2f2"/>
<clipPath id="clipd"><rect x="413.4" y="298.6" width="267.6" height="191.1"/></clipPath>
<g clip-path="url(#clipd)">
<ellipse cx="509.8" cy="353.4" rx="19.6" ry="13.9" fill="none" stroke="#6ae86a" stroke-width="1.05"/>
<ellipse cx="509.8" cy="353.4" rx="39.2" ry="27.8" fill="none" stroke="#6ae86a" stroke-width="1.05"/>
<ellipse cx="509.8" cy="353.4" rx="58.8" ry="41.7" fill="none" stroke="#6ae86a" stroke-width="1.05"/>
<ellipse cx="509.8" cy="353.4" rx="78.4" ry="55.6" fill="none" stroke="#6ae86a" stroke-width="1.05"/>
<ellipse cx="509.8" cy="353.4" rx="98" ry="69.5" fill="none" stroke="#6ae86a" stroke-width="1.05"/>
<line x1="413.4" y1="353.4" x2="681" y2="353.4" stroke="#000" stroke-width="1.3"/>
<line x1="509.8" y1="298.6" x2="509.8" y2="489.7" stroke="#000" stroke-width="1.3"/>
<line x1="413.4" y1="254.69" x2="681" y2="528.71" stroke="#ff0000" stroke-width="1.2"/>
<polyline points="559.6,409.07 566.5,411.4 565.97,406.11" fill="none" stroke="#ff0000" stroke-width="1.3" stroke-linecap="round" stroke-linejoin="round"/>
<line x1="509.8" y1="353.4" x2="652.2" y2="391.4" stroke="#ff0000" stroke-width="1.2"/>
<line x1="509.8" y1="353.4" x2="534.2" y2="421.9" stroke="#ff0000" stroke-width="1.2"/>
<line x1="509.8" y1="353.4" x2="653.3" y2="367.7" stroke="#ff0000" stroke-width="1.2"/>
<line x1="509.8" y1="353.4" x2="429.3" y2="467.9" stroke="#ff0000" stroke-width="1.2"/>
<line x1="516.5" y1="326.9" x2="520.3" y2="320.6" stroke="#0000ff" stroke-width="0.9"/>
<ellipse cx="503.2" cy="307.3" rx="3.2" ry="2.45" fill="#0000ff" stroke="#00007a" stroke-width="0.35"/>
<ellipse cx="476.6" cy="317.8" rx="3.2" ry="2.45" fill="#0000ff" stroke="#00007a" stroke-width="0.35"/>
<ellipse cx="548.4" cy="313" rx="3.2" ry="2.45" fill="#0000ff" stroke="#00007a" stroke-width="0.35"/>
<ellipse cx="516.5" cy="326.9" rx="3.2" ry="2.45" fill="#0000ff" stroke="#00007a" stroke-width="0.35"/>
<ellipse cx="546.9" cy="333.4" rx="3.2" ry="2.45" fill="#0000ff" stroke="#00007a" stroke-width="0.35"/>
<ellipse cx="555.3" cy="339.6" rx="3.2" ry="2.45" fill="#0000ff" stroke="#00007a" stroke-width="0.35"/>
<ellipse cx="490.3" cy="337" rx="3.2" ry="2.45" fill="#0000ff" stroke="#00007a" stroke-width="0.35"/>
<ellipse cx="470.6" cy="332.8" rx="3.2" ry="2.45" fill="#0000ff" stroke="#00007a" stroke-width="0.35"/>
<ellipse cx="525.4" cy="349.1" rx="3.2" ry="2.45" fill="#0000ff" stroke="#00007a" stroke-width="0.35"/>
<ellipse cx="522.8" cy="352.1" rx="3.2" ry="2.45" fill="#0000ff" stroke="#00007a" stroke-width="0.35"/>
<ellipse cx="554.2" cy="366.3" rx="3.2" ry="2.45" fill="#0000ff" stroke="#00007a" stroke-width="0.35"/>
<ellipse cx="548.5" cy="373" rx="3.2" ry="2.45" fill="#0000ff" stroke="#00007a" stroke-width="0.35"/>
<ellipse cx="578.1" cy="376.2" rx="3.2" ry="2.45" fill="#0000ff" stroke="#00007a" stroke-width="0.35"/>
<ellipse cx="433.7" cy="343.6" rx="3.2" ry="2.45" fill="#0000ff" stroke="#00007a" stroke-width="0.35"/>
<ellipse cx="454.1" cy="359.5" rx="3.2" ry="2.45" fill="#0000ff" stroke="#00007a" stroke-width="0.35"/>
<ellipse cx="474.9" cy="374.2" rx="3.2" ry="2.45" fill="#0000ff" stroke="#00007a" stroke-width="0.35"/>
<ellipse cx="484" cy="379.7" rx="3.2" ry="2.45" fill="#0000ff" stroke="#00007a" stroke-width="0.35"/>
<ellipse cx="516.6" cy="382.2" rx="3.2" ry="2.45" fill="#0000ff" stroke="#00007a" stroke-width="0.35"/>
<ellipse cx="513.3" cy="393.2" rx="3.2" ry="2.45" fill="#0000ff" stroke="#00007a" stroke-width="0.35"/>
<ellipse cx="477.4" cy="407.5" rx="3.2" ry="2.45" fill="#0000ff" stroke="#00007a" stroke-width="0.35"/>
<polygon points="648.3,391.4 652.2,388.3 656.1,391.4 652.2,394.5" fill="#ff0000" stroke="#8a0000" stroke-width="0.45" stroke-linejoin="miter"/>
<polygon points="530.3,421.9 534.2,418.8 538.1,421.9 534.2,425" fill="#ff0000" stroke="#8a0000" stroke-width="0.45" stroke-linejoin="miter"/>
<polygon points="649.4,367.7 653.3,364.6 657.2,367.7 653.3,370.8" fill="#ff0000" stroke="#8a0000" stroke-width="0.45" stroke-linejoin="miter"/>
<polygon points="425.4,467.9 429.3,464.8 433.2,467.9 429.3,471" fill="#ff0000" stroke="#8a0000" stroke-width="0.45" stroke-linejoin="miter"/>
<text transform="translate(492.4,307.63) scale(1.42,1)" font-size="8.59" fill="#0000ff" text-anchor="middle" stroke="#0000ff" stroke-width="0.12">L9</text>
<text transform="translate(482.3,315.33) scale(1.42,1)" font-size="8.59" fill="#0000ff" text-anchor="middle" stroke="#0000ff" stroke-width="0.12">L8</text>
<text transform="translate(520.9,318.03) scale(1.42,1)" font-size="8.59" fill="#0000ff" text-anchor="middle" stroke="#0000ff" stroke-width="0.12">JW3288</text>
<text transform="translate(586.7,315.73) scale(1.42,1)" font-size="8.59" fill="#0000ff" text-anchor="middle" stroke="#0000ff" stroke-width="0.12">MACS2496</text>
<text transform="translate(538.3,329.43) scale(1.42,1)" font-size="8.59" fill="#0000ff" text-anchor="middle" stroke="#0000ff" stroke-width="0.12">WH730</text>
<text transform="translate(459.5,328.63) scale(1.42,1)" font-size="8.59" fill="#0000ff" text-anchor="middle" stroke="#0000ff" stroke-width="0.12">L1</text>
<text transform="translate(425,339.43) scale(1.42,1)" font-size="8.59" fill="#0000ff" text-anchor="middle" stroke="#0000ff" stroke-width="0.12">L2</text>
<text transform="translate(479.9,347.93) scale(1.42,1)" font-size="8.59" fill="#0000ff" text-anchor="middle" stroke="#0000ff" stroke-width="0.12">L6</text>
<text transform="translate(526,344.63) scale(1.42,1)" font-size="8.59" fill="#0000ff" text-anchor="middle" stroke="#0000ff" stroke-width="0.12">JW3382</text>
<text transform="translate(568.2,348.53) scale(1.42,1)" font-size="8.59" fill="#0000ff" text-anchor="middle" stroke="#0000ff" stroke-width="0.12">L3</text>
<text transform="translate(443.9,355.43) scale(1.42,1)" font-size="8.59" fill="#0000ff" text-anchor="middle" stroke="#0000ff" stroke-width="0.12">L15</text>
<text transform="translate(565,361.53) scale(1.42,1)" font-size="8.59" fill="#0000ff" text-anchor="middle" stroke="#0000ff" stroke-width="0.12">L7</text>
<text transform="translate(512.3,363.53) scale(1.42,1)" font-size="8.59" fill="#0000ff" text-anchor="middle" stroke="#0000ff" stroke-width="0.12">L4</text>
<text transform="translate(464.7,369.63) scale(1.42,1)" font-size="8.59" fill="#0000ff" text-anchor="middle" stroke="#0000ff" stroke-width="0.12">GW322</text>
<text transform="translate(525.4,377.13) scale(1.42,1)" font-size="8.59" fill="#0000ff" text-anchor="middle" stroke="#0000ff" stroke-width="0.12">L13</text>
<text transform="translate(559.1,384.03) scale(1.42,1)" font-size="8.59" fill="#0000ff" text-anchor="middle" stroke="#0000ff" stroke-width="0.12">L14</text>
<text transform="translate(498.8,390.03) scale(1.42,1)" font-size="8.59" fill="#0000ff" text-anchor="middle" stroke="#0000ff" stroke-width="0.12">L11</text>
<text transform="translate(589.1,387.83) scale(1.42,1)" font-size="8.59" fill="#0000ff" text-anchor="middle" stroke="#0000ff" stroke-width="0.12">L10</text>
<text transform="translate(488.2,403.33) scale(1.42,1)" font-size="8.59" fill="#0000ff" text-anchor="middle" stroke="#0000ff" stroke-width="0.12">L12</text>
<text transform="translate(523.9,403.93) scale(1.42,1)" font-size="8.59" fill="#0000ff" text-anchor="middle" stroke="#0000ff" stroke-width="0.12">L5</text>
<text transform="translate(660.2,387.83) scale(1.42,1)" font-size="8.59" fill="#ff0000" text-anchor="middle" stroke="#ff0000" stroke-width="0.05">HSE1</text>
<text transform="translate(523.9,433.13) scale(1.42,1)" font-size="8.59" fill="#ff0000" text-anchor="middle" stroke="#ff0000" stroke-width="0.05">HSE2</text>
<text transform="translate(631,373.63) scale(1.42,1)" font-size="8.59" fill="#ff0000" text-anchor="middle" stroke="#ff0000" stroke-width="0.05">HSE3</text>
<text transform="translate(439.6,462.93) scale(1.42,1)" font-size="8.59" fill="#ff0000" text-anchor="middle" stroke="#ff0000" stroke-width="0.05">HSE4</text>
<polygon points="623.1,466.1 627,463 630.9,466.1 627,469.2" fill="#ff0000" stroke="#8a0000" stroke-width="0.45" stroke-linejoin="miter"/>
<ellipse cx="627" cy="482.2" rx="3.2" ry="2.45" fill="#0000ff" stroke="#00007a" stroke-width="0.35"/>
<text transform="translate(645.4,469.03) scale(1.36,1)" font-size="8.03" fill="#2a2a2a" text-anchor="start">Env</text>
<text transform="translate(645.4,485.13) scale(1.36,1)" font-size="8.03" fill="#2a2a2a" text-anchor="start">Gen</text>
</g>
<rect x="413.4" y="298.6" width="267.6" height="191.1" fill="none" stroke="#1a1a1a" stroke-width="1.1"/>
<line x1="407.6" y1="314.1" x2="413.4" y2="314.1" stroke="#333333" stroke-width="1"/>
<text transform="translate(402,318) scale(1.61,1)" font-size="9.34" fill="#1a1a1a" text-anchor="end">0.1</text>
<line x1="407.6" y1="353.4" x2="413.4" y2="353.4" stroke="#333333" stroke-width="1"/>
<text transform="translate(402,357.3) scale(1.61,1)" font-size="9.34" fill="#1a1a1a" text-anchor="end">0.0</text>
<line x1="407.6" y1="392.7" x2="413.4" y2="392.7" stroke="#333333" stroke-width="1"/>
<text transform="translate(402,396.6) scale(1.61,1)" font-size="9.34" fill="#1a1a1a" text-anchor="end">-0.1</text>
<line x1="407.6" y1="432" x2="413.4" y2="432" stroke="#333333" stroke-width="1"/>
<text transform="translate(402,435.9) scale(1.61,1)" font-size="9.34" fill="#1a1a1a" text-anchor="end">-0.2</text>
<line x1="407.6" y1="471.3" x2="413.4" y2="471.3" stroke="#333333" stroke-width="1"/>
<text transform="translate(402,475.2) scale(1.61,1)" font-size="9.34" fill="#1a1a1a" text-anchor="end">-0.3</text>
<line x1="455.1" y1="489.7" x2="455.1" y2="495.5" stroke="#333333" stroke-width="1"/>
<text transform="translate(455.1,505.15) scale(1.61,1)" font-size="9.34" fill="#1a1a1a" text-anchor="middle">-0.1</text>
<line x1="509.8" y1="489.7" x2="509.8" y2="495.5" stroke="#333333" stroke-width="1"/>
<text transform="translate(509.8,505.15) scale(1.61,1)" font-size="9.34" fill="#1a1a1a" text-anchor="middle">0.0</text>
<line x1="564.5" y1="489.7" x2="564.5" y2="495.5" stroke="#333333" stroke-width="1"/>
<text transform="translate(564.5,505.15) scale(1.61,1)" font-size="9.34" fill="#1a1a1a" text-anchor="middle">0.1</text>
<line x1="619.2" y1="489.7" x2="619.2" y2="495.5" stroke="#333333" stroke-width="1"/>
<text transform="translate(619.2,505.15) scale(1.61,1)" font-size="9.34" fill="#1a1a1a" text-anchor="middle">0.2</text>
<line x1="673.9" y1="489.7" x2="673.9" y2="495.5" stroke="#333333" stroke-width="1"/>
<text transform="translate(673.9,505.15) scale(1.61,1)" font-size="9.34" fill="#1a1a1a" text-anchor="middle">0.3</text>
<text transform="translate(547.2,517.48) scale(1.61,1)" font-size="9.34" fill="#1a1a1a" text-anchor="middle">PC1 (38.84%)</text>
<text transform="translate(364.6,394.15) rotate(-90) scale(1,1.57)" font-size="10.99" fill="#1a1a1a" text-anchor="middle" dy="4">PC2 (30.59%)</text>
</svg></body></html>
